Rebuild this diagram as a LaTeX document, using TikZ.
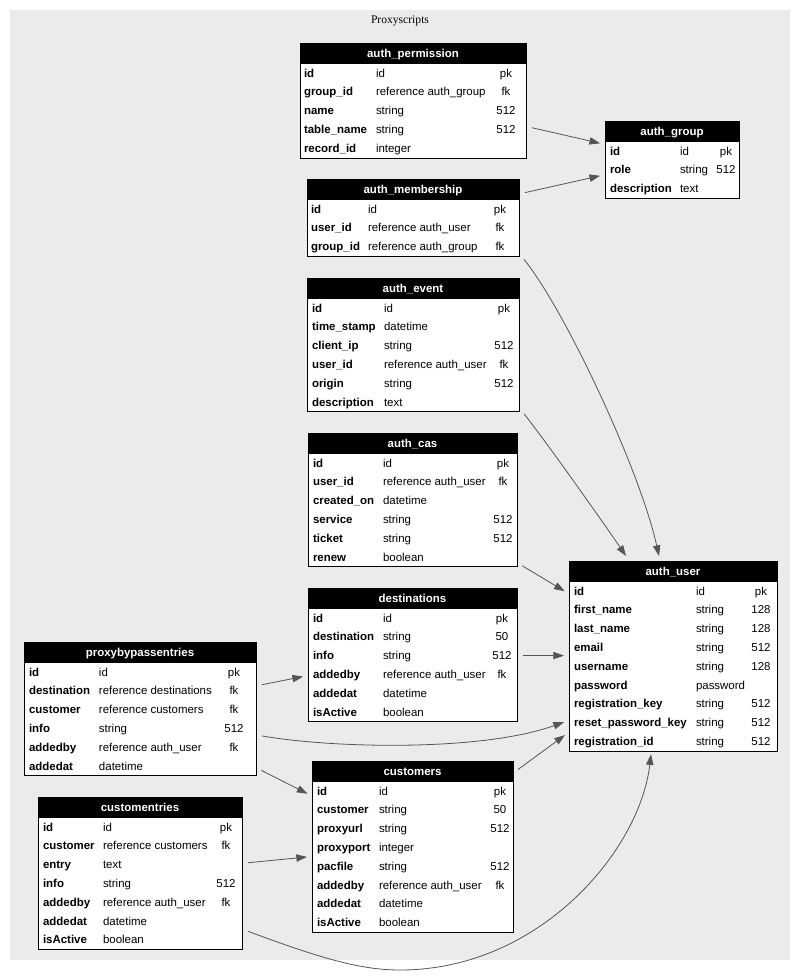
\documentclass[tikz,border=0pt]{standalone}
\usepackage{fontspec}
\setmainfont{Liberation Serif}
\newfontfamily\tablefont{Liberation Sans}
\usepackage{array}
\usepackage{colortbl}
\usetikzlibrary{arrows.meta}

\definecolor{canvas}{HTML}{EBEBEB}
\definecolor{edgegray}{HTML}{555555}

\newlength{\px}
\setlength{\px}{0.75pt}
\setlength{\tabcolsep}{0pt}
% pad | field (bold) | type | size (centered) | pad
\newcolumntype{T}[5]{@{\hspace{#1\px}}>{\bfseries}p{#2\px}@{}p{#3\px}@{}>{\centering\arraybackslash}p{#4\px}@{\hspace{#5\px}}}
\newcommand{\tblhead}[1]{\multicolumn{3}{@{}>{\columncolor{black}}c@{}}{\color{white}\bfseries\rule[-5.1pt]{0pt}{15.75pt}#1}}

\begin{document}
\begin{tikzpicture}[
    x=0.75pt, y=-0.75pt,
    tbl/.style={
        draw=black,
        fill=white,
        line width=0.75pt,
        inner sep=0pt,
        outer sep=0pt,
        anchor=north west,
        font=\tablefont\fontsize{8.6}{14.1}\selectfont
    },
    fk/.style={-{Triangle[length=8pt,width=5.5pt]}, draw=edgegray, fill=none, line width=0.6pt},
    gap/.style={shorten <=4.5pt, shorten >=3.75pt}
]

\useasboundingbox (0,0) rectangle (800,976);
\fill[canvas] (10,10) rectangle (790,960);

\node[font=\fontsize{8.7}{10}\selectfont] (caption) at (400,21) {Proxyscripts};

% --- Tables
\node[tbl] (perm) at (300,43) {\begin{tabular}{T{4}{72}{114}{32}{4}}
\tblhead{auth\_permission}\\
id & id & pk\\
group\_id & reference auth\_group & fk\\
name & string & 512\\
table\_name & string & 512\\
record\_id & integer &
\end{tabular}};

\node[tbl] (group) at (605,121) {\begin{tabular}{T{5}{70}{36}{20}{3}}
\tblhead{auth\_group}\\
id & id & pk\\
role & string & 512\\
description & text &
\end{tabular}};

\node[tbl] (memb) at (307,179) {\begin{tabular}{T{4}{57}{120}{24}{7}}
\tblhead{auth\_membership}\\
id & id & pk\\
user\_id & reference auth\_user & fk\\
group\_id & reference auth\_group & fk
\end{tabular}};

\node[tbl] (event) at (307,278) {\begin{tabular}{T{5}{72}{108}{24}{3}}
\tblhead{auth\_event}\\
id & id & pk\\
time\_stamp & datetime &\\
client\_ip & string & 512\\
user\_id & reference auth\_user & fk\\
origin & string & 512\\
description & text &
\end{tabular}};

\node[tbl] (cas) at (308,433) {\begin{tabular}{T{5}{70}{108}{24}{2}}
\tblhead{auth\_cas}\\
id & id & pk\\
user\_id & reference auth\_user & fk\\
created\_on & datetime &\\
service & string & 512\\
ticket & string & 512\\
renew & boolean &
\end{tabular}};

\node[tbl] (user) at (569,561) {\begin{tabular}{T{5}{122}{54}{22}{5}}
\tblhead{auth\_user}\\
id & id & pk\\
first\_name & string & 128\\
last\_name & string & 128\\
email & string & 512\\
username & string & 128\\
password & password &\\
registration\_key & string & 512\\
reset\_password\_key & string & 512\\
registration\_id & string & 512
\end{tabular}};

\node[tbl] (dest) at (308,588) {\begin{tabular}{T{5}{70}{107}{24}{3}}
\tblhead{destinations}\\
id & id & pk\\
destination & string & 50\\
info & string & 512\\
addedby & reference auth\_user & fk\\
addedat & datetime &\\
isActive & boolean &
\end{tabular}};

\node[tbl] (cust) at (312,761) {\begin{tabular}{T{5}{62}{110}{22}{2}}
\tblhead{customers}\\
id & id & pk\\
customer & string & 50\\
proxyurl & string & 512\\
proxyport & integer &\\
pacfile & string & 512\\
addedby & reference auth\_user & fk\\
addedat & datetime &\\
isActive & boolean &
\end{tabular}};

\node[tbl] (bypass) at (24,642) {\begin{tabular}{T{5}{70}{123}{24}{10}}
\tblhead{proxybypassentries}\\
id & id & pk\\
destination & reference destinations & fk\\
customer & reference customers & fk\\
info & string & 512\\
addedby & reference auth\_user & fk\\
addedat & datetime &
\end{tabular}};

\node[tbl] (centry) at (38,797) {\begin{tabular}{T{5}{60}{112}{22}{5}}
\tblhead{customentries}\\
id & id & pk\\
customer & reference customers & fk\\
entry & text &\\
info & string & 512\\
addedby & reference auth\_user & fk\\
addedat & datetime &\\
isActive & boolean &
\end{tabular}};

% --- References
\draw[fk, gap] (perm) -- (group);
\draw[fk, gap] (memb) -- (group);
\draw[fk, gap] (cas) -- (user);
\draw[fk, gap] (dest) -- (user);
\draw[fk, gap] (bypass) -- (dest);
\draw[fk, gap] (bypass) -- (cust);
\draw[fk, gap] (cust) -- (user);
\draw[fk, gap] (centry) -- (cust);

\draw[fk] ([shift={(5,3)}]memb.south east) .. controls (565,310) and (640,470) .. ([shift={(-14,-5)}]user.north);
\draw[fk] ([shift={(5,2)}]event.south east) .. controls (545,440) and (605,525) .. ([shift={(-47,-5)}]user.north);
\draw[fk] ([shift={(6,27)}]bypass.east) .. controls (330,748) and (480,752) .. ([shift={(-5,66)}]user.west);
\draw[fk] ([shift={(6,58)}]centry.east) .. controls (320,958) and (360,970) .. (400,970)
    .. controls (540,970) and (640,850) .. ([shift={(-22,3)}]user.south);

\end{tikzpicture}
\end{document}
